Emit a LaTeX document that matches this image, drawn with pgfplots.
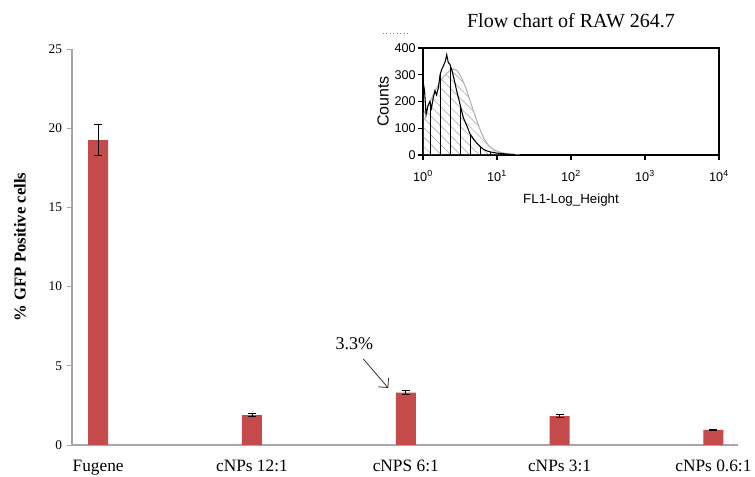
\documentclass[border=0pt]{standalone}
\usepackage{fontspec}
\setmainfont{Liberation Serif}
\newfontfamily\insfont{Liberation Sans}
\usepackage{pgfplots}
\usepackage{pgfplotstable}
\pgfplotsset{compat=1.18}
\usetikzlibrary{patterns.meta,arrows.meta}
\definecolor{barred}{RGB}{196,74,76}

% % GFP positive cells, mean and error
\pgfplotstableread{
x val err
0 19.25 0.97
1 1.89 0.10
2 3.30 0.12
3 1.83 0.10
4 0.95 0.05
}\gfpdata

\begin{document}
\begin{tikzpicture}
\useasboundingbox (0pt,0pt) rectangle (566.25pt,357.75pt);
% main bar chart
\begin{axis}[
  at={(54pt,24pt)}, anchor=south west,
  scale only axis, width=499.5pt, height=297pt,
  xmin=-0.17, xmax=4.16, ymin=0, ymax=25,
  axis lines=left,
  axis line style={-, draw=gray!70, line width=0.8pt},
  xtick={0,...,4},
  xticklabels={Fugene, cNPs 12:1, cNPS 6:1, cNPs 3:1, cNPs 0.6:1},
  ytick={0,5,...,25},
  x tick style={draw=none},
  y tick style={draw=gray!70, line width=0.6pt},
  tick align=outside, major tick length=4pt,
  /pgf/number format/assume math mode=true,
  yticklabel style={font=\fontsize{10}{12}\selectfont},
  xticklabel style={font=\fontsize{13}{15}\selectfont, anchor=base, yshift=-16pt},
  ylabel={\% GFP Positive cells},
  ylabel style={font=\bfseries\fontsize{12.5}{14}\selectfont,
    at={(axis description cs:-0.078,0.5)}, anchor=center},
  clip=false,
]
\addplot[ybar, bar width=15pt, fill=barred, draw=none,
  error bars/.cd, y dir=both, y explicit,
  error bar style={black, line width=0.6pt},
  error mark options={rotate=90, mark size=3pt, black, line width=0.6pt}]
  table[x=x, y=val, y error=err] {\gfpdata};
\draw[-{Straight Barb[length=5pt]}, black!80, line width=0.6pt]
  (axis cs:1.724,5.43) -- (axis cs:1.886,3.60);
\node[font=\fontsize{13.5}{15}\selectfont] at (axis cs:1.665,6.38) {3.3\%};
\end{axis}
\draw[gray, dotted, line width=0.6pt] (287.25pt,333pt) -- (306pt,333pt);
% inset flow histogram
\begin{axis}[
  at={(317.25pt,241.5pt)}, anchor=south west,
  scale only axis, width=222pt, height=80.25pt,
  xmode=log, xmin=1, xmax=10000, ymin=0, ymax=400,
  xtick={1,10,100,1000,10000},
  xticklabels={10\textsuperscript{0},10\textsuperscript{1},10\textsuperscript{2},10\textsuperscript{3},10\textsuperscript{4}},
  ytick={0,100,...,400},
  xtick pos=bottom, ytick pos=left,
  minor x tick num=0, xminorticks=false,
  axis line style={line width=1.2pt},
  tick align=outside, major tick length=4pt,
  tick style={black, line width=0.8pt},
  /pgf/number format/assume math mode=true,
  ticklabel style={font=\insfont\fontsize{9.5}{11}\selectfont},
  yticklabel style={xshift=2pt},
  xticklabel style={yshift=-4pt},
  xlabel={FL1-Log\_Height},
  xlabel style={font=\insfont\fontsize{10}{12}\selectfont,
    at={(axis description cs:0.5,-0.42)}, anchor=center},
  ylabel={Counts},
  ylabel style={font=\insfont\fontsize{12}{14}\selectfont,
    at={(axis description cs:-0.135,0.5)}, anchor=center},
  title={Flow chart of RAW 264.7},
  title style={font=\fontsize{15}{17}\selectfont,
    at={(axis description cs:0.5,1)}, anchor=base, yshift=9pt},
]
\addplot[gray!60, line width=0.8pt,
  pattern={Lines[angle=-45,distance=5pt,line width=0.5pt]}, pattern color=gray!60]
  coordinates {
  (1.0,150) (1.1,170) (1.25,200) (1.4,230) (1.6,260) (1.8,285) (2.0,300)
  (2.3,315) (2.6,322) (2.9,315) (3.3,290) (3.8,250) (4.3,205) (5.0,150)
  (5.8,100) (6.7,60) (7.7,35) (9,20) (11,10) (13,6) (16,3) (20,0)
  } \closedcycle;
\addplot[black, line width=0.8pt,
  pattern={Lines[angle=90,distance=7.5pt,line width=0.6pt]}, pattern color=black]
  coordinates {
  (1.0,275) (1.05,240) (1.1,150) (1.17,185) (1.24,200) (1.3,175) (1.38,215)
  (1.45,240) (1.52,225) (1.61,250) (1.7,300) (1.79,320) (1.9,335) (2.0,350)
  (2.09,375) (2.2,345) (2.3,340) (2.44,320) (2.6,290) (2.85,240) (3.1,200)
  (3.5,140) (3.9,110) (4.3,80) (4.8,60) (5.3,45) (5.9,32) (6.5,22) (7.2,16)
  (8,12) (9,9) (10,7) (12,5) (14,3) (16.6,2) (18,0)
  } \closedcycle;
\end{axis}
\end{tikzpicture}
\end{document}
